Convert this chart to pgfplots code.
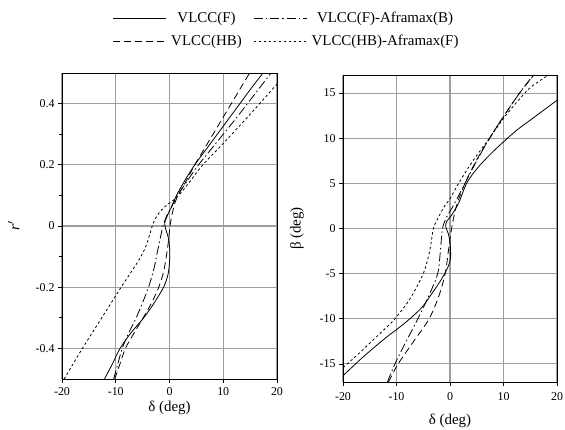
\documentclass[border=0pt]{standalone}
\usepackage{fontspec}
\setmainfont{Liberation Serif}
\usepackage{pgfplots}
\pgfplotsset{compat=1.18}
\pgfplotsset{
  myax/.style={
    scale only axis, anchor=south west,
    tick align=outside, tick pos=left,
    major tick length=4bp, minor tick length=2.5bp,
    grid=major, major grid style={black!38, line width=1.1bp},
    axis line style={line width=0.8bp},
    every tick/.style={black, line width=0.6bp},
    tick label style={font=\fontsize{12}{14}\selectfont},
    label style={font=\fontsize{15}{17}\selectfont},
    /pgf/number format/assume math mode=true,
    xmin=-20, xmax=20, xtick={-20,-10,0,10,20},
    xticklabel style={yshift=-1bp},
  },
  sF/.style={black, line width=0.8bp, smooth, tension=0.5},
  sFA/.style={black, line width=0.8bp, smooth, tension=0.5, dash pattern=on 9bp off 3bp on 1.5bp off 3bp},
  sHB/.style={black, line width=0.8bp, smooth, tension=0.5, dash pattern=on 7bp off 4bp},
  sHA/.style={black, line width=0.8bp, smooth, tension=0.5, dash pattern=on 2.5bp off 2.5bp},
}
\begin{document}
\begin{tikzpicture}
\begin{axis}[myax, at={(62bp,51bp)}, width=215bp, height=306bp,
  ymin=-0.5, ymax=0.5, ytick={-0.4,-0.2,0,0.2,0.4}, minor y tick num=1,
  xlabel={δ (deg)}, ylabel={\textit{r}$'$},
  xlabel style={at={(axis description cs:0.5,-0.095)}, anchor=center},
  ylabel style={at={(axis description cs:-0.225,0.5)}, anchor=center},
  legend columns=2,
  legend style={at={(axis description cs:0.236,1.142)}, anchor=west, draw=none, fill=none,
    inner sep=0pt, font=\fontsize{15}{17}\selectfont,
    nodes={inner sep=1.5bp}, row sep=8bp,
    /tikz/every odd column/.append style={column sep=3bp},
    /tikz/every even column/.append style={column sep=10bp}},
  legend image code/.code={\draw[#1] (0bp,0bp) -- (53bp,0bp);},
]
\addplot[sF] coordinates {(-12.1,-0.5) (-10.6,-0.45) (-9.2,-0.4) (-7.2,-0.35) (-4.8,-0.3) (-2.8,-0.25) (-1.1,-0.2) (-0.3,-0.16) (0.0,-0.12) (0.05,-0.08) (-0.2,-0.04) (-0.7,-0.01) (-0.9,0.01) (-0.5,0.03) (0.3,0.06) (1.3,0.1) (2.9,0.15) (4.7,0.2) (6.8,0.25) (8.9,0.3) (11.0,0.35) (13.1,0.4) (15.2,0.45) (17.4,0.5)};
\addlegendentry{VLCC(F)}
\addplot[sFA] coordinates {(-10.4,-0.5) (-9.6,-0.45) (-8.8,-0.4) (-7.6,-0.35) (-6.2,-0.3) (-5.0,-0.25) (-3.9,-0.2) (-2.9,-0.14) (-2.2,-0.08) (-1.6,-0.03) (-1.2,0.0) (-0.6,0.03) (0.3,0.06) (1.5,0.1) (3.4,0.15) (5.4,0.2) (7.7,0.25) (10.0,0.3) (12.3,0.35) (14.5,0.4) (16.7,0.45) (18.9,0.5)};
\addlegendentry{VLCC(F)-Aframax(B)}
\addplot[sHB] coordinates {(-10.2,-0.5) (-9.2,-0.45) (-8.2,-0.4) (-6.6,-0.35) (-4.9,-0.3) (-3.3,-0.25) (-2.0,-0.2) (-1.1,-0.15) (-0.6,-0.1) (-0.2,-0.05) (0.1,0.0) (0.5,0.04) (1.1,0.08) (1.9,0.11) (3.2,0.15) (4.7,0.2) (6.4,0.25) (8.1,0.3) (9.8,0.35) (11.5,0.4) (13.2,0.45) (14.9,0.5)};
\addlegendentry{VLCC(HB)}
\addplot[sHA] coordinates {(-19.6,-0.5) (-16.2,-0.4) (-12.6,-0.3) (-9.0,-0.2) (-6.0,-0.12) (-4.6,-0.075) (-3.8,-0.035) (-3.2,0.0) (-2.6,0.025) (-1.6,0.05) (-0.4,0.07) (0.8,0.085) (2.2,0.11) (4.0,0.15) (6.2,0.2) (10.0,0.27) (15.0,0.365) (20.0,0.464)};
\addlegendentry{VLCC(HB)-Aframax(F)}
\end{axis}
\begin{axis}[myax, at={(343bp,48bp)}, width=214bp, height=307bp,
  ymin=-17, ymax=17, ytick={-15,-10,-5,0,5,10,15},
  xlabel={δ (deg)}, ylabel={β (deg)},
  xticklabel style={yshift=-2bp},
  xlabel style={at={(axis description cs:0.5,-0.127)}, anchor=center},
  ylabel style={at={(axis description cs:-0.215,0.5)}, anchor=center},
]
\addplot[sF] coordinates {(-20,-16.3) (-16,-14.1) (-12,-12.1) (-10,-11.2) (-7.5,-10.0) (-5.2,-8.7) (-3.5,-7.3) (-2.0,-6.0) (-0.9,-4.9) (-0.2,-4.0) (0.1,-3.3) (0.1,-2.4) (0.0,-1.5) (-0.3,-0.6) (-0.8,0.2) (-0.6,0.8) (0.2,1.4) (1.6,2.8) (3.1,5.0) (5.0,6.6) (7.5,8.2) (10.0,9.6) (12.5,10.9) (15.0,12.0) (17.5,13.1) (20.0,14.2)};
\addplot[sFA] coordinates {(-11.7,-17) (-10.3,-15) (-8.2,-12.5) (-6.0,-10) (-4.0,-7.5) (-2.3,-5) (-1.8,-2.5) (-1.4,0) (-0.6,1.3) (0.6,2.5) (2.8,5) (5.0,7.5) (7.4,10) (10.0,12.4) (13.0,15) (15.6,17)};
\addplot[sHB] coordinates {(-11.5,-17) (-9.7,-15) (-6.8,-12.5) (-3.9,-10) (-2.1,-7.5) (-0.9,-5) (-0.3,-2.5) (0.3,0) (1.2,2.5) (2.8,5) (4.9,7.5) (7.4,10) (10.0,12.4) (13.0,15.0) (15.7,17)};
\addplot[sHA] coordinates {(-20,-15.4) (-17.5,-14.1) (-15,-12.7) (-12.5,-11.3) (-10.3,-10.0) (-7.5,-7.8) (-5.0,-5.0) (-3.8,-2.5) (-3.1,0) (-2.2,1.2) (-1,2.5) (0,3.3) (1.6,5) (4.4,7.6) (7.5,10.1) (10,12.2) (12.5,14.0) (15,15.6) (18.4,17)};
\end{axis}
\pgfresetboundingbox
\path[use as bounding box] (0,0) rectangle (565bp,430bp);
\end{tikzpicture}
\end{document}
